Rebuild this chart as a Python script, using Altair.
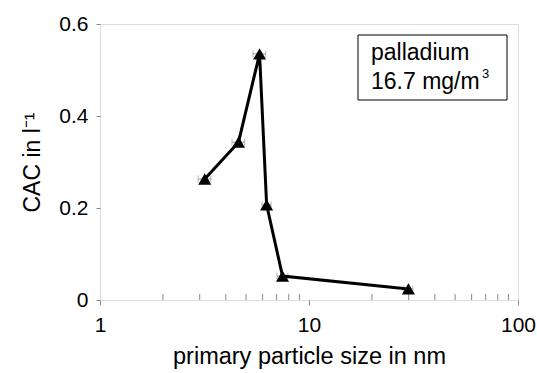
import altair as alt
import pandas as pd

# Measured CAC versus primary particle size (palladium, 16.7 mg/m3)
size_nm = [3.17, 4.6, 5.8, 6.27, 7.47, 29.9]
cac = [0.263, 0.343, 0.535, 0.207, 0.052, 0.024]
size_err_rel = [0.07, 0.07, 0.07, 0.05, 0.06, 0.05]

minor_x = [2, 3, 4, 5, 6, 7, 8, 9, 20, 30, 40, 50, 60, 70, 80, 90]

df = pd.DataFrame({
    "size": size_nm,
    "cac": cac,
    "lo": [s * (1 - e) for s, e in zip(size_nm, size_err_rel)],
    "hi": [s * (1 + e) for s, e in zip(size_nm, size_err_rel)],
})
minor_df = pd.DataFrame({"m": minor_x})

FONT = "Liberation Sans"
W, H = 418, 276

xscale = alt.Scale(type="log", domain=[1, 100], nice=False)
yscale = alt.Scale(domain=[0, 0.6], nice=False)

base = alt.Chart(df)

x_enc = alt.X(
    "size:Q", scale=xscale,
    axis=alt.Axis(
        title="primary particle size in nm", values=[1, 10, 100], format="d",
        labelFontSize=21, titleFontSize=23.5, labelFont=FONT, titleFont=FONT,
        labelColor="black", titleColor="black", titleFontWeight="normal",
        tickColor="#888", tickSize=5, domain=False, grid=False,
        labelPadding=9, titlePadding=9, labelFlush=False,
    ),
)
y_enc = alt.Y(
    "cac:Q", scale=yscale,
    axis=alt.Axis(
        title="CAC in l⁻¹", values=[0, 0.2, 0.4, 0.6],
        labelExpr="datum.value == 0 ? '0' : format(datum.value, '.1f')",
        labelFontSize=21, titleFontSize=23, labelFont=FONT, titleFont=FONT,
        labelColor="black", titleColor="black", titleFontWeight="normal",
        tickColor="#888", tickSize=4, domain=False, grid=False,
        labelPadding=8, titlePadding=14, labelFlush=False,
    ),
)

errbars = base.mark_rule(color="#999", strokeWidth=1).encode(
    x=alt.X("lo:Q", scale=xscale), x2="hi:Q", y=alt.Y("cac:Q", scale=yscale)
)
cap_lo = base.mark_tick(color="#999", thickness=1, size=7, orient="vertical").encode(
    x=alt.X("lo:Q", scale=xscale), y=alt.Y("cac:Q", scale=yscale)
)
cap_hi = base.mark_tick(color="#999", thickness=1, size=7, orient="vertical").encode(
    x=alt.X("hi:Q", scale=xscale), y=alt.Y("cac:Q", scale=yscale)
)

line = base.mark_line(color="black", strokeWidth=3).encode(x=x_enc, y=y_enc)
points = base.mark_point(
    shape="triangle-up", filled=True, color="black", size=170, opacity=1
).encode(x=alt.X("size:Q", scale=xscale), y=alt.Y("cac:Q", scale=yscale))

minor_ticks = alt.Chart(minor_df).mark_rule(color="#888", strokeWidth=1).encode(
    x=alt.X("m:Q", scale=xscale), y=alt.value(H), y2=alt.value(H - 6)
)

# annotation box
box = alt.Chart(pd.DataFrame({"a": [0]})).mark_rect(
    fill="white", stroke="black", strokeWidth=1
).encode(x=alt.value(258), x2=alt.value(407), y=alt.value(11), y2=alt.value(76))
txt1 = alt.Chart(pd.DataFrame({"t": ["palladium"]})).mark_text(
    align="left", baseline="alphabetic", fontSize=23, font=FONT, color="black"
).encode(x=alt.value(271), y=alt.value(36), text="t:N")
txt2 = alt.Chart(pd.DataFrame({"t": ["16.7 mg/m"]})).mark_text(
    align="left", baseline="alphabetic", fontSize=23, font=FONT, color="black"
).encode(x=alt.value(271), y=alt.value(65), text="t:N")
txt3 = alt.Chart(pd.DataFrame({"t": ["3"]})).mark_text(
    align="left", baseline="alphabetic", fontSize=13, font=FONT, color="black"
).encode(x=alt.value(382), y=alt.value(54), text="t:N")

chart = alt.layer(
    minor_ticks, errbars, cap_lo, cap_hi, line, points, box, txt1, txt2, txt3
).properties(
    width=W, height=H,
    autosize=alt.AutoSizeParams(type="none"),
    padding={"left": 100, "top": 24, "right": 19, "bottom": 73},
).configure_view(
    stroke="#333", strokeWidth=1.5
).configure(background="white")

chart.save("out.html", embed_options={"renderer": "svg", "actions": False})
